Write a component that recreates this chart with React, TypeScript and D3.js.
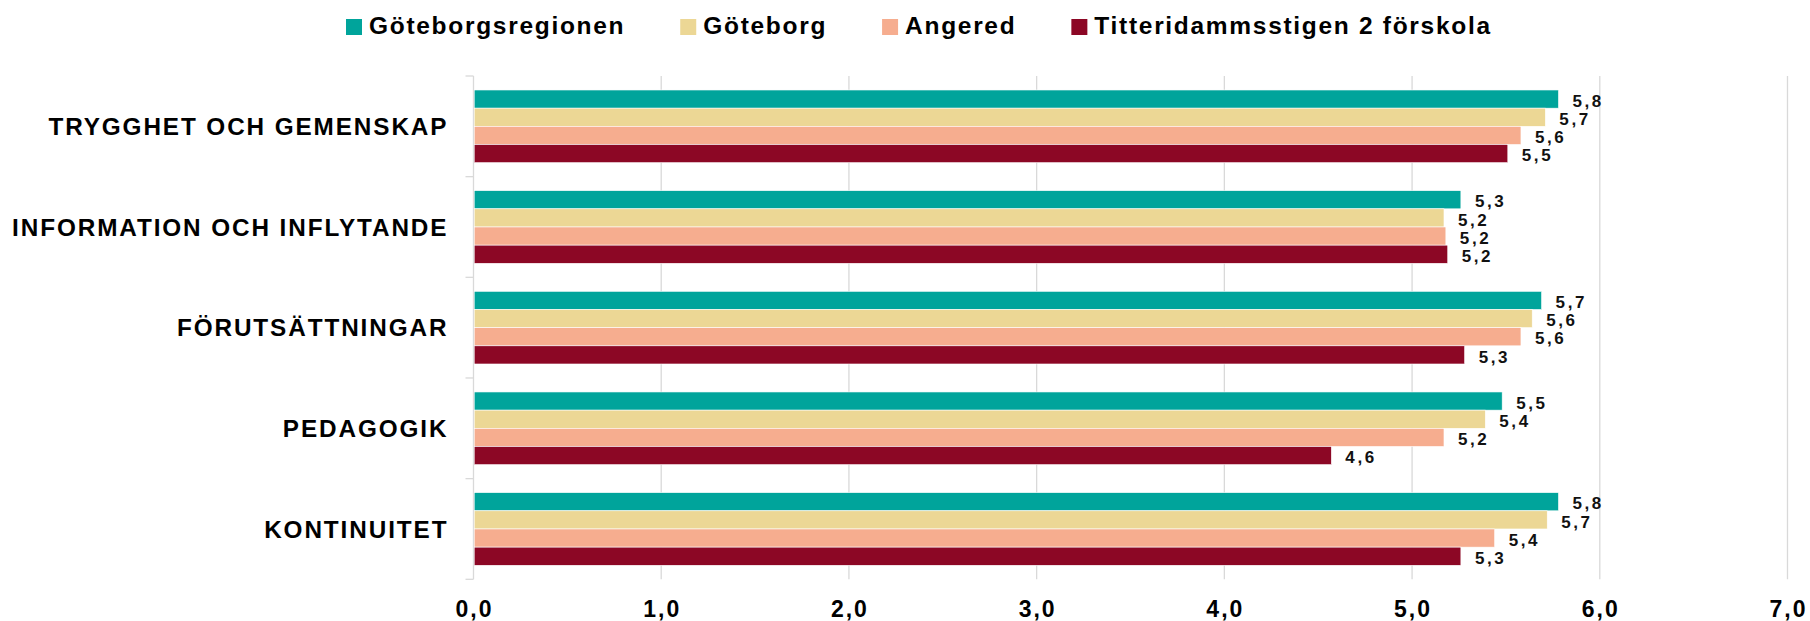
import React, { useEffect, useRef } from "react";
import * as d3 from "d3";

const categories = [
  "TRYGGHET OCH GEMENSKAP",
  "INFORMATION OCH INFLYTANDE",
  "FÖRUTSÄTTNINGAR",
  "PEDAGOGIK",
  "KONTINUITET",
];
const seriesNames = ["Göteborgsregionen", "Göteborg", "Angered", "Titteridammsstigen 2 förskola"];
const seriesColors = ["#00A49B", "#ECD795", "#F6AD8F", "#8C0725"];
const goteborgsregionen = [5.78, 5.26, 5.69, 5.48, 5.78];
const goteborg = [5.71, 5.17, 5.64, 5.39, 5.72];
const angered = [5.58, 5.18, 5.58, 5.17, 5.44];
const titteridammsstigen = [5.51, 5.19, 5.28, 4.57, 5.26];
const xTicks = [0, 1, 2, 3, 4, 5, 6, 7];

const W = 1810;
const H = 621;
const FONT = "'Liberation Sans', Arial, sans-serif";

export default function App() {
  const ref = useRef<SVGSVGElement | null>(null);

  useEffect(() => {
    document.body.style.margin = "0";
    const svg = d3.select(ref.current);
    svg.selectAll("*").remove();

    const left = 473.5, right = 1787.5, top = 76, bottom = 579.3;
    const x = d3.scaleLinear().domain([0, 7]).range([left, right]);
    const y = d3.scaleBand<string>().domain(categories).range([top, bottom]).padding(0);
    const inner = d3
      .scaleBand<number>()
      .domain(d3.range(seriesNames.length))
      .range([0, y.bandwidth()])
      .paddingInner(0)
      .paddingOuter(0.77);

    const series = [goteborgsregionen, goteborg, angered, titteridammsstigen];
    const fmt = (v: number) => d3.format(".1f")(v).replace(".", ",");

    // gridlines
    svg
      .append("g")
      .selectAll("line")
      .data(xTicks.slice(1))
      .join("line")
      .attr("x1", (d) => x(d))
      .attr("x2", (d) => x(d))
      .attr("y1", top)
      .attr("y2", bottom)
      .attr("stroke", "#D9D9D9")
      .attr("stroke-width", 1.3);

    // y axis line and ticks
    const yb = [...categories.map((c) => y(c) as number), bottom];
    svg
      .append("line")
      .attr("x1", left)
      .attr("x2", left)
      .attr("y1", top)
      .attr("y2", bottom)
      .attr("stroke", "#D9D9D9")
      .attr("stroke-width", 1.3);
    svg
      .append("g")
      .selectAll("line")
      .data(yb)
      .join("line")
      .attr("x1", left - 8)
      .attr("x2", left)
      .attr("y1", (d) => d)
      .attr("y2", (d) => d)
      .attr("stroke", "#D9D9D9")
      .attr("stroke-width", 1.3);

    // bars
    series.forEach((vals, si) => {
      const g = svg.append("g");
      g.selectAll("rect")
        .data(vals)
        .join("rect")
        .attr("x", x(0) + 0.7)
        .attr("y", (_, i) => (y(categories[i]) as number) + (inner(si) as number))
        .attr("width", (d) => x(d) - x(0) - 0.7)
        .attr("height", inner.bandwidth())
        .attr("fill", seriesColors[si])
        .attr("stroke", "#ffffff")
        .attr("stroke-width", 0.6);
      g.selectAll("text")
        .data(vals)
        .join("text")
        .attr("x", (d) => x(d) + 14)
        .attr("y", (_, i) => (y(categories[i]) as number) + (inner(si) as number) + inner.bandwidth() / 2 + 1.5)
        .attr("dy", "0.36em")
        .attr("font-family", FONT)
        .attr("font-size", 17)
        .attr("font-weight", 700)
        .attr("letter-spacing", 2.6)
        .attr("fill", "#111")
        .text((d) => fmt(d));
    });

    // category labels
    svg
      .append("g")
      .selectAll("text")
      .data(categories)
      .join("text")
      .attr("x", left - 27 + 1.9)
      .attr("y", (d) => (y(d) as number) + y.bandwidth() / 2)
      .attr("dy", "0.36em")
      .attr("text-anchor", "end")
      .attr("font-family", FONT)
      .attr("font-size", 24.3)
      .attr("font-weight", 700)
      .attr("letter-spacing", 1.9)
      .attr("fill", "#000")
      .text((d) => d);

    // x tick labels
    svg
      .append("g")
      .selectAll("text")
      .data(xTicks)
      .join("text")
      .attr("x", (d) => x(d) + 1)
      .attr("y", 616.7)
      .attr("text-anchor", "middle")
      .attr("font-family", FONT)
      .attr("font-size", 23)
      .attr("font-weight", 700)
      .attr("letter-spacing", 2)
      .attr("fill", "#000")
      .text((d) => d3.format(".1f")(d).replace(".", ","));

    // legend
    const lg = svg.append("g");
    let cx = 346;
    seriesNames.forEach((name, i) => {
      lg.append("rect")
        .attr("x", cx)
        .attr("y", 19)
        .attr("width", 16)
        .attr("height", 16)
        .attr("fill", seriesColors[i]);
      const t = lg
        .append("text")
        .attr("x", cx + 23)
        .attr("y", 34.3)
        .attr("font-family", FONT)
        .attr("font-size", 24.5)
        .attr("font-weight", 700)
        .attr("letter-spacing", 1.7)
        .attr("fill", "#000")
        .text(name);
      const w = (t.node() as SVGTextElement).getComputedTextLength();
      cx = cx + 23 + w + 55;
    });
  }, []);

  return <svg ref={ref} width={W} height={H} style={{ display: "block", background: "#fff" }} />;
}
